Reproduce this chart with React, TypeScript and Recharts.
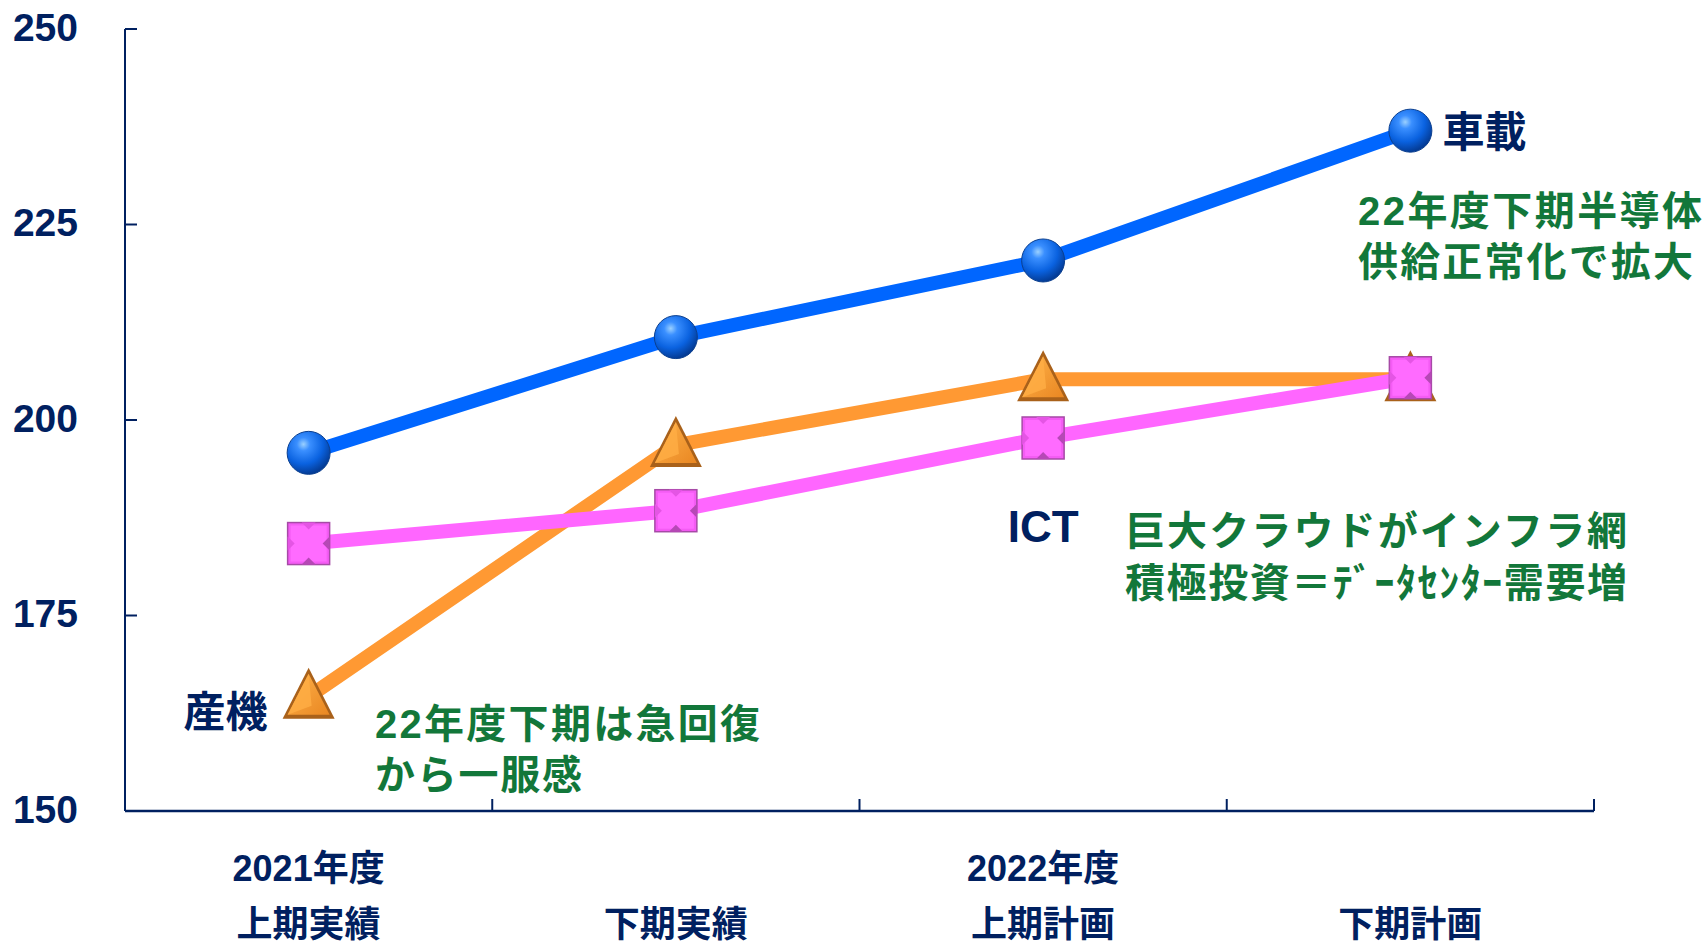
import React from 'react';
import { LineChart, Line, XAxis, YAxis, LabelList } from 'recharts';

// ---- data ----
const periodYears = ['2021年度', '', '2022年度', ''];
const periodHalves = ['上期実績', '下期実績', '上期計画', '下期計画'];
const automotive = [195.8, 210.6, 220.4, 237.0];
const industrial = [164.6, 196.8, 205.2, 205.2];
const ictSeries = [184.2, 188.4, 197.7, 205.4];
const yTicks = [150, 175, 200, 225, 250];
const xTickPositions = [0, 0.5, 1, 1.5, 2, 2.5, 3, 3.5];
const seriesNames = ['車載', '産機', 'ICT'];
const noteAutomotive = ['22年度下期半導体', '供給正常化で拡大'];
const noteIct = ['巨大クラウドがインフラ網', '積極投資＝ﾃﾞｰﾀｾﾝﾀｰ需要増'];
const noteIndustrial = ['22年度下期は急回復', 'から一服感'];

const data = periodHalves.map((_, i) => ({
  i,
  auto: automotive[i],
  ind: industrial[i],
  ict: ictSeries[i],
}));

const NAVY = '#002060';
const GREEN = '#12773A';
const FONT = "'Liberation Sans', 'Noto Sans CJK JP', sans-serif";

const XTick = (props: any) => {
  const { x, y, payload } = props;
  const v = payload.value;
  if (!Number.isInteger(v)) {
    return <line x1={x} x2={x} y1={y} y2={y - 12} stroke={NAVY} strokeWidth={2} />;
  }
  return (
    <g>
      <text x={x} y={y + 70} textAnchor="middle" fontFamily={FONT} fontWeight={700} fontSize={36} fill={NAVY}>
        {periodYears[v]}
      </text>
      <text x={x} y={y + 126} textAnchor="middle" fontFamily={FONT} fontWeight={700} fontSize={36} fill={NAVY}>
        {periodHalves[v]}
      </text>
    </g>
  );
};

const YTick = (props: any) => {
  const { x, y, payload } = props;
  return (
    <g>
      <line x1={x} x2={x + 12} y1={y} y2={y} stroke={NAVY} strokeWidth={2} />
      <text x={x - 47} y={y + 11.5} textAnchor="end" fontFamily={FONT} fontWeight={700} fontSize={39} fill={NAVY}>
        {payload.value}
      </text>
    </g>
  );
};

const SphereDot = (props: any) => {
  const { cx, cy, index } = props;
  if (cx == null || cy == null) return null;
  const id = `sph-${index}`;
  return (
    <g key={id}>
      <defs>
        <radialGradient id={id} cx="38%" cy="30%" r="70%">
          <stop offset="0%" stopColor="#9AD0FF" />
          <stop offset="22%" stopColor="#3A8FFF" />
          <stop offset="65%" stopColor="#0A62E0" />
          <stop offset="100%" stopColor="#043C96" />
        </radialGradient>
      </defs>
      <circle cx={cx} cy={cy} r={21.5} fill={`url(#${id})`} stroke="#0B3F8F" strokeWidth={1} />
    </g>
  );
};

const TriangleDot = (props: any) => {
  const { cx, cy, index } = props;
  if (cx == null || cy == null) return null;
  const id = `tri-${index}`;
  return (
    <g key={id}>
      <defs>
        <linearGradient id={id} x1="0" y1="0" x2="1" y2="1">
          <stop offset="0%" stopColor="#FFB24A" />
          <stop offset="100%" stopColor="#E98722" />
        </linearGradient>
      </defs>
      <polygon
        points={`${cx},${cy - 29} ${cx + 26},${cy + 22} ${cx - 26},${cy + 22}`}
        fill="#A9611A"
      />
      <polygon
        points={`${cx},${cy - 23} ${cx + 21},${cy + 18} ${cx - 21},${cy + 18}`}
        fill={`url(#${id})`}
      />
      <polygon
        points={`${cx},${cy - 23} ${cx + 3},${cy + 9} ${cx - 21},${cy + 18}`}
        fill="#FFAE45"
        opacity={0.8}
      />
    </g>
  );
};

const SquareDot = (props: any) => {
  const { cx, cy, index } = props;
  if (cx == null || cy == null) return null;
  const h = 21;
  const n = 7;
  return (
    <g key={`sq-${index}`}>
      <rect x={cx - h} y={cy - h} width={2 * h} height={2 * h} fill="#F45CF4" stroke="#A64AA6" strokeWidth={1.5} />
      <rect x={cx - h + 3} y={cy - h + 3} width={2 * h - 6} height={2 * h - 6} fill="#FF6BFF" />
      <polygon points={`${cx - n},${cy - h} ${cx + n},${cy - h} ${cx},${cy - h + n}`} fill="#E455E4" />
      <polygon points={`${cx - n},${cy + h} ${cx + n},${cy + h} ${cx},${cy + h - n}`} fill="#B648B6" />
      <polygon points={`${cx - h},${cy - n} ${cx - h},${cy + n} ${cx - h + n},${cy}`} fill="#E455E4" />
      <polygon points={`${cx + h},${cy - n} ${cx + h},${cy + n} ${cx + h - n},${cy}`} fill="#B648B6" />
    </g>
  );
};

const seriesLabel = (idx: number, text: string, dx: number, dy: number, anchor: string, size: number) =>
  (p: any) => {
    if (p.index !== idx) return null;
    return (
      <text
        x={Number(p.x) + dx}
        y={Number(p.y) + dy}
        textAnchor={anchor as any}
        fontFamily={FONT}
        fontWeight={700}
        fontSize={size}
        fill={NAVY}
      >
        {text}
      </text>
    );
  };

const Note = ({ lines, x, y, lengths }: { lines: string[]; x: number; y: number[]; lengths: number[] }) => (
  <>
    {lines.map((t, k) => (
      <text
        key={k}
        x={x}
        y={y[k]}
        textLength={lengths[k]}
        lengthAdjust="spacing"
        fontFamily={FONT}
        fontWeight={700}
        fontSize={40}
        fill={GREEN}
      >
        {t}
      </text>
    ))}
  </>
);

export default function App() {
  return (
    <div style={{ position: 'absolute', left: 0, top: 0, width: 1707, height: 946, background: '#ffffff' }}>
      <LineChart width={1707} height={946} data={data} margin={{ top: 29, right: 113, bottom: 0, left: 0 }}>
        <XAxis
          dataKey="i"
          type="number"
          domain={[-0.5, 3.5]}
          ticks={xTickPositions}
          interval={0}
          height={135}
          tickLine={false}
          tickSize={0}
          tickMargin={0}
          axisLine={{ stroke: NAVY, strokeWidth: 2.5 }}
          tick={(p: any) => <XTick {...p} />}
        />
        <YAxis
          type="number"
          domain={[150, 250]}
          ticks={yTicks}
          interval={0}
          width={125}
          tickLine={false}
          tickSize={0}
          tickMargin={0}
          axisLine={{ stroke: NAVY, strokeWidth: 2 }}
          tick={(p: any) => <YTick {...p} />}
        />
        <Line
          dataKey="auto"
          stroke="#0066FF"
          strokeWidth={14}
          dot={(p: any) => <SphereDot {...p} />}
          activeDot={false}
          isAnimationActive={false}
        >
          <LabelList dataKey="auto" content={seriesLabel(3, seriesNames[0], 32, 16, 'start', 42)} />
        </Line>
        <Line
          dataKey="ind"
          stroke="#FF9933"
          strokeWidth={14}
          dot={(p: any) => <TriangleDot {...p} />}
          activeDot={false}
          isAnimationActive={false}
        >
          <LabelList dataKey="ind" content={seriesLabel(0, seriesNames[1], -41, 30, 'end', 42)} />
        </Line>
        <Line
          dataKey="ict"
          stroke="#FF66FF"
          strokeWidth={14}
          dot={(p: any) => <SquareDot {...p} />}
          activeDot={false}
          isAnimationActive={false}
        >
          <LabelList dataKey="ict" content={seriesLabel(2, seriesNames[2], 0, 104, 'middle', 44)} />
        </Line>
      </LineChart>
      <svg
        width={1707}
        height={946}
        style={{ position: 'absolute', left: 0, top: 0, pointerEvents: 'none' }}
      >
        <Note lines={noteAutomotive} x={1358} y={[225, 276]} lengths={[344, 335]} />
        <Note lines={noteIct} x={1125} y={[545, 597]} lengths={[502, 502]} />
        <Note lines={noteIndustrial} x={375} y={[738, 789]} lengths={[385, 207]} />
      </svg>
    </div>
  );
}
